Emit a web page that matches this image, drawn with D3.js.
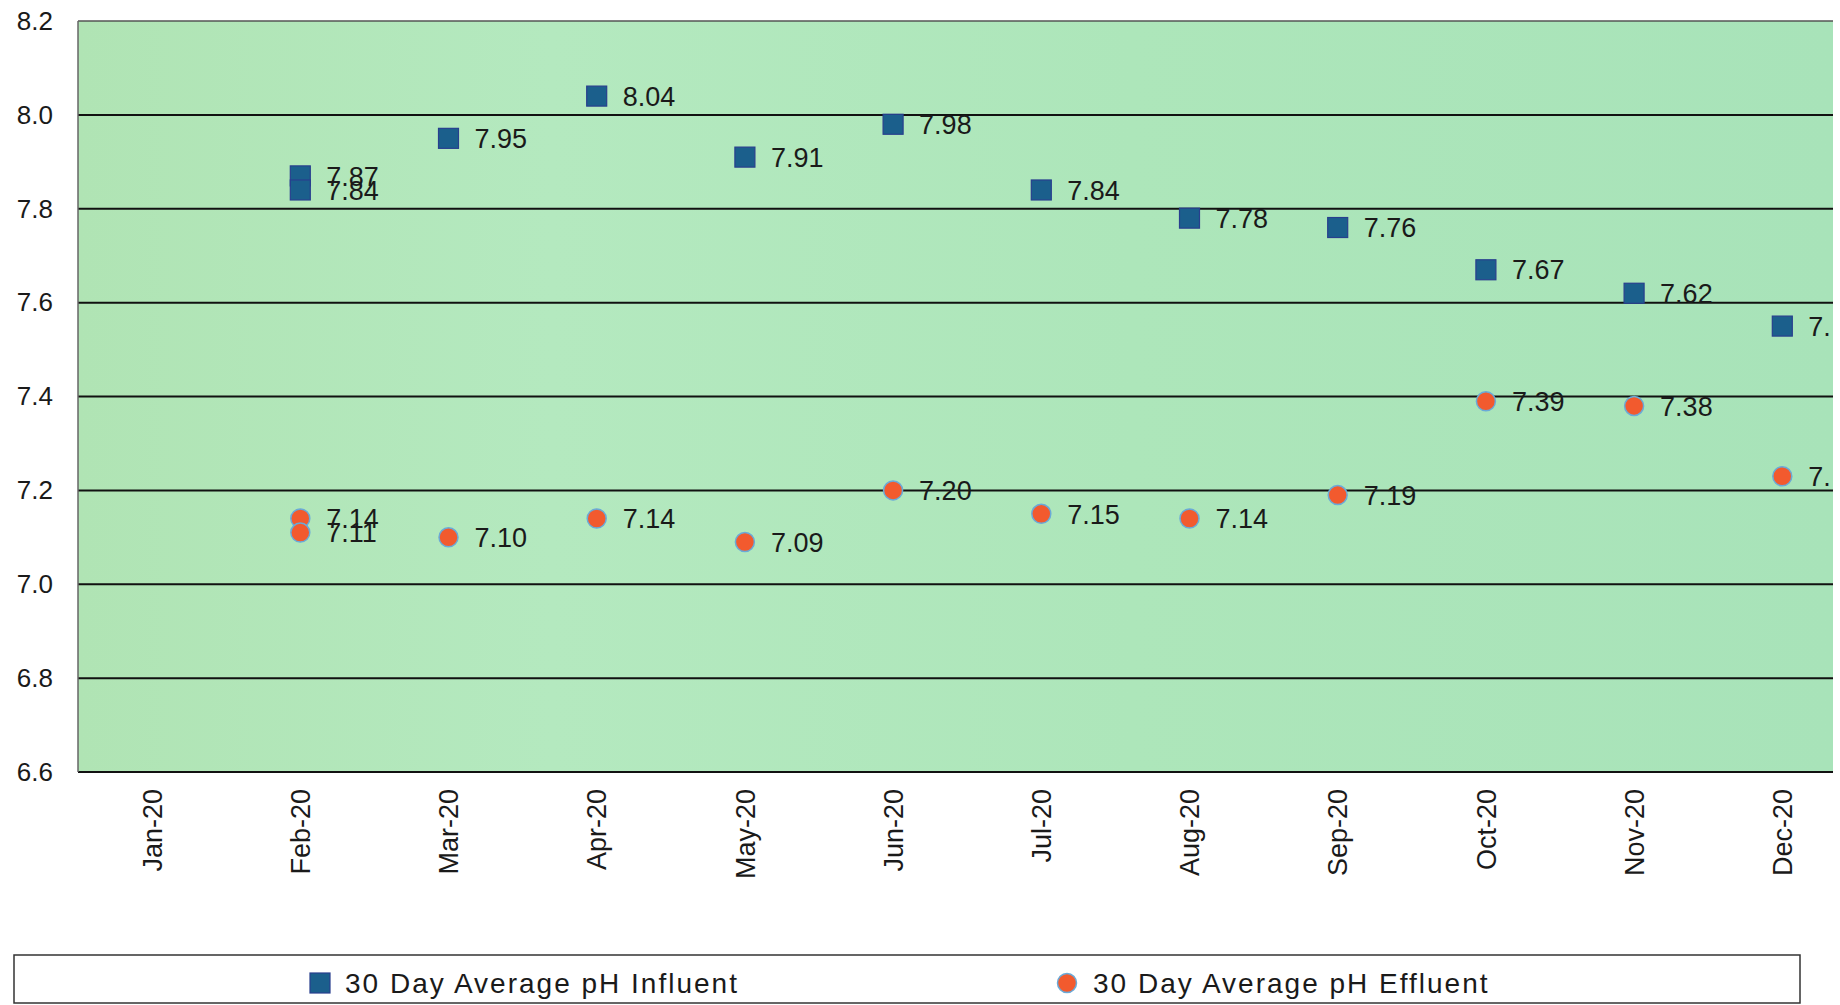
<!DOCTYPE html>
<html>
<head>
<meta charset="utf-8">
<script src="https://cdn.jsdelivr.net/npm/d3@7"></script>
<style>
  body { margin: 0; background: #fff; }
  svg text { font-family: "Liberation Sans", Arial, sans-serif; fill: #1a1a1a; }
</style>
</head>
<body>
<script>
// month categories on the x axis
const months = ["Jan-20","Feb-20","Mar-20","Apr-20","May-20","Jun-20",
                "Jul-20","Aug-20","Sep-20","Oct-20","Nov-20","Dec-20"];
const yTicks = [6.6, 6.8, 7.0, 7.2, 7.4, 7.6, 7.8, 8.0, 8.2];

// influent readings (Feb has two samples)
const influentMonths = ["Feb-20","Feb-20","Mar-20","Apr-20","May-20","Jun-20","Jul-20","Aug-20","Sep-20","Oct-20","Nov-20","Dec-20"];
const influentValues = [7.87, 7.84, 7.95, 8.04, 7.91, 7.98, 7.84, 7.78, 7.76, 7.67, 7.62, 7.55];

// effluent readings
const effluentMonths = ["Feb-20","Feb-20","Mar-20","Apr-20","May-20","Jun-20","Jul-20","Aug-20","Sep-20","Oct-20","Nov-20","Dec-20"];
const effluentValues = [7.14, 7.11, 7.10, 7.14, 7.09, 7.20, 7.15, 7.14, 7.19, 7.39, 7.38, 7.23];

const seriesNames = ["30 Day Average pH Influent", "30 Day Average pH Effluent"];

const W = 1840, H = 1005;
const plotL = 78, plotT = 21, plotB = 772, plotR = 1833;
const step = 148.2;

const svg = d3.select("body").append("svg")
  .attr("width", W).attr("height", H);

const x = d3.scaleBand().domain(months).range([plotL, plotL + step * months.length]).padding(0);
const y = d3.scaleLinear().domain([6.6, 8.2]).range([plotB, plotT]);

const defs = svg.append("defs");
const grad = defs.append("linearGradient").attr("id", "bg").attr("x1", "0").attr("x2", "1").attr("y1", "0").attr("y2", "0");
grad.append("stop").attr("offset", "0").attr("stop-color", "#b0e4b4");
grad.append("stop").attr("offset", "0.27").attr("stop-color", "#b4e9bf");
grad.append("stop").attr("offset", "0.6").attr("stop-color", "#ade6ba");
grad.append("stop").attr("offset", "1").attr("stop-color", "#a8e3b9");

defs.append("clipPath").attr("id", "plotclip")
  .append("rect").attr("x", plotL).attr("y", 0).attr("width", plotR - plotL - 2).attr("height", plotB + 2);

svg.append("rect")
  .attr("x", plotL).attr("y", plotT)
  .attr("width", plotR - plotL).attr("height", plotB - plotT)
  .attr("fill", "url(#bg)");

// gridlines
svg.append("g").selectAll("line")
  .data(yTicks)
  .join("line")
  .attr("x1", plotL).attr("x2", plotR)
  .attr("y1", d => y(d)).attr("y2", d => y(d))
  .attr("stroke", d => d === 8.2 ? "#555" : "#111")
  .attr("stroke-width", d => d === 8.2 ? 1.5 : 2);

// left border
svg.append("line")
  .attr("x1", plotL).attr("x2", plotL).attr("y1", plotT).attr("y2", plotB)
  .attr("stroke", "#666").attr("stroke-width", 1.5);

// y axis labels
const yAxis = d3.axisLeft(y).tickValues(yTicks).tickFormat(d3.format(".1f")).tickSize(0).tickPadding(25);
const yg = svg.append("g").attr("transform", `translate(${plotL},0)`).call(yAxis);
yg.select(".domain").remove();
yg.selectAll("text").style("font-size", "26px").attr("fill", "#1a1a1a");

// x axis labels, rotated
const xAxis = d3.axisBottom(x).tickSize(0).tickPadding(0);
const xg = svg.append("g").attr("transform", `translate(0,${plotB})`).call(xAxis);
xg.select(".domain").remove();
xg.selectAll("text")
  .style("font-size", "27px")
  .attr("fill", "#1a1a1a")
  .attr("text-anchor", "end")
  .attr("transform", "translate(0,17) rotate(-90)")
  .attr("x", 0).attr("y", 0).attr("dy", "0.36em");

const plot = svg.append("g").attr("clip-path", "url(#plotclip)");

const inf = influentMonths.map((m, i) => ({ m, v: influentValues[i] }));
const eff = effluentMonths.map((m, i) => ({ m, v: effluentValues[i] }));
const cx = d => x(d.m) + x.bandwidth() / 2;

plot.append("g").selectAll("rect")
  .data(inf)
  .join("rect")
  .attr("x", d => cx(d) - 10).attr("y", d => y(d.v) - 10)
  .attr("width", 20).attr("height", 20)
  .attr("fill", "#1b5f8c").attr("stroke", "#283f8e").attr("stroke-width", 1.2);

plot.append("g").selectAll("circle")
  .data(eff)
  .join("circle")
  .attr("cx", cx).attr("cy", d => y(d.v))
  .attr("r", 9.5)
  .attr("fill", "#f25a2e").attr("stroke", "#6aaad8").attr("stroke-width", 1.5);

const labels = plot.append("g").style("font-size", "27px");
labels.selectAll("text.inf")
  .data(inf)
  .join("text")
  .attr("class", "inf")
  .attr("x", d => cx(d) + 26).attr("y", d => y(d.v))
  .attr("dy", "0.36em")
  .text(d => d.v.toFixed(2));
labels.selectAll("text.eff")
  .data(eff)
  .join("text")
  .attr("class", "eff")
  .attr("x", d => cx(d) + 26).attr("y", d => y(d.v))
  .attr("dy", "0.36em")
  .text(d => d.v.toFixed(2));

// legend
svg.append("rect")
  .attr("x", 14).attr("y", 955).attr("width", 1786).attr("height", 48)
  .attr("fill", "#fff").attr("stroke", "#333").attr("stroke-width", 1.5);

const lg = svg.append("g");
lg.append("rect").attr("x", 310).attr("y", 973).attr("width", 20).attr("height", 20)
  .attr("fill", "#1b5f8c").attr("stroke", "#283f8e").attr("stroke-width", 1.2);
lg.append("circle").attr("cx", 1067).attr("cy", 983).attr("r", 9.5)
  .attr("fill", "#f25a2e").attr("stroke", "#6aaad8").attr("stroke-width", 1.5);
lg.selectAll("text")
  .data(seriesNames)
  .join("text")
  .attr("x", (d, i) => i === 0 ? 345 : 1093)
  .attr("y", 983).attr("dy", "0.36em")
  .style("font-size", "28px").style("letter-spacing", "2px")
  .text(d => d);
</script>
</body>
</html>
